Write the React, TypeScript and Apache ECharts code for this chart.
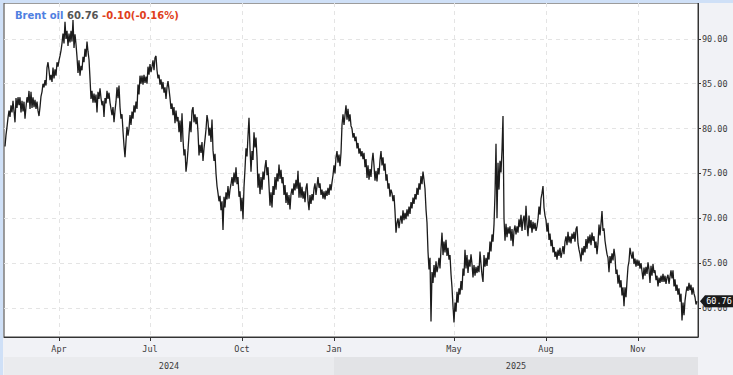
import React, { useEffect, useRef } from 'react';
import * as echarts from 'echarts';

const DAY = 86400000;
const seriesName = 'Brent oil';
const lastPrice = '60.76';
const lastChange = '-0.10(-0.16%)';
const firstDate = '2024-02-07';
const axisStart = '2024-02-06';
const axisEnd = '2025-12-31';
const monthTickDates = ['2024-04-01', '2024-07-01', '2024-10-01', '2025-01-01', '2025-05-01', '2025-08-01', '2025-11-01'];
const monthTickLabels = ['Apr', 'Jul', 'Oct', 'Jan', 'May', 'Aug', 'Nov'];
const yTickValues = [60, 65, 70, 75, 80, 85, 90];
const yearLabels = ['2024', '2025'];
const yearStarts = ['2024-02-06', '2025-01-01'];
const yearEnds = ['2025-01-01', '2025-12-31'];

// daily closes (one per day from firstDate)
const brentDaily = [
  78.0, 79.3, 80.2, 81.2, 82.0, 81.3, 82.6, 81.8, 83.1, 81.9,
  80.7, 83.4, 82.3, 83.5, 82.6, 83.5, 81.8, 83.1, 81.9, 83.0,
  81.1, 82.4, 83.5, 82.9, 84.2, 82.2, 84.1, 82.3, 83.5, 82.4,
  83.2, 82.2, 83.0, 82.0, 81.4, 82.4, 83.6, 84.1, 85.0, 84.6,
  85.4, 84.8, 86.8, 87.4, 86.5, 85.4, 86.0, 85.2, 86.8, 85.6,
  86.6, 85.9, 87.4, 86.9, 87.6, 88.1, 88.7, 89.5, 90.6, 89.5,
  91.9, 90.0, 90.9, 89.2, 90.6, 89.6, 90.9, 89.7, 92.1, 89.0,
  90.5, 89.4, 88.0, 86.2, 87.6, 85.9, 87.0, 86.5, 88.0, 87.4,
  88.9, 88.0, 89.7, 88.6, 87.7, 85.6, 83.3, 84.2, 82.9, 83.9,
  82.9, 83.8, 81.8, 84.1, 83.3, 84.5,
  83.4, 82.6, 83.1, 81.3, 83.4, 82.8, 84.2, 83.3, 84.0, 82.9,
  82.2, 81.5, 82.4, 80.7, 82.0, 83.0, 84.6, 83.4, 84.8, 82.4,
  81.1, 81.6, 79.7, 78.1, 76.8, 78.6, 80.2, 79.2, 80.0, 81.5,
  80.4, 81.9, 81.1, 82.6, 81.8, 83.0, 82.2, 84.9, 83.8, 85.9,
  85.0, 85.9, 84.9, 86.0, 85.1, 85.8, 85.0, 86.9, 86.0, 87.2,
  86.3, 86.9, 87.6, 86.5, 87.9, 88.1, 86.5, 85.6, 86.0, 84.9,
  85.5, 84.4, 85.2, 84.0, 84.6, 83.3, 84.6, 85.3, 84.4, 83.4,
  82.2, 82.8, 81.5, 82.4, 80.6, 82.0, 80.8, 81.3, 79.6, 80.9,
  78.5, 81.7, 78.8, 77.0, 77.7, 75.2, 76.2, 77.6, 79.3, 80.8,
  79.6, 82.0, 82.4, 80.7, 81.6, 80.5, 81.3, 79.6, 77.0, 78.2,
  77.3, 78.5, 76.4, 77.8, 78.8, 79.9, 81.5, 80.8, 79.2, 80.1,
  78.5, 81.0, 77.6, 76.4, 77.2, 75.0, 73.6, 72.8, 71.9, 72.5,
  70.9, 71.9, 68.7, 72.4, 71.2, 72.9, 72.1, 73.6, 72.2, 73.2,
  73.8, 74.6, 73.6, 75.1, 74.0, 75.7, 73.8, 74.6, 72.4, 73.0,
  70.8, 72.3, 69.9, 73.5, 75.5, 77.8, 76.9, 79.2, 81.2, 77.8,
  75.2, 77.5, 76.5, 79.6, 77.9, 79.0, 76.8, 73.4, 75.0, 72.7,
  74.6, 73.2, 75.2, 74.3, 75.7, 76.5, 74.8, 75.7, 73.6, 71.4,
  72.9, 71.2, 73.6, 72.6, 74.6, 73.2, 75.0, 74.1, 76.0, 74.4,
  75.4, 73.9, 74.6, 72.6, 73.7, 71.7, 72.9, 71.5, 72.6, 71.0,
  72.7, 73.3, 72.6, 73.9, 73.1, 74.3, 73.3, 75.3, 72.3, 74.0,
  72.3, 73.5, 72.2, 73.0, 71.8, 73.4, 73.9, 72.0, 70.9, 72.6,
  71.6, 72.7, 72.0, 73.3, 73.9, 72.6, 73.6, 74.6, 73.4, 73.9,
  72.6, 73.2, 72.2, 73.0, 72.1, 73.1, 72.5, 73.4, 72.6, 73.8,
  73.1, 74.0, 74.8, 75.9, 75.0, 76.8, 77.5, 76.2, 77.1, 75.8,
  77.3, 80.4, 81.6, 80.4, 81.5, 82.6, 81.0, 82.2, 80.8, 81.6,
  80.3, 80.0, 79.0, 79.5, 78.6, 79.1, 77.8, 78.4, 77.2, 77.8,
  76.9, 77.5, 76.6, 77.3, 75.7, 76.6, 74.5, 75.9, 74.3, 75.5,
  74.6, 76.3, 77.3, 75.9, 74.2, 75.3, 74.1, 75.6, 74.9, 76.5,
  77.5, 75.9, 76.8, 75.3, 76.1, 74.2, 74.9, 73.3, 73.9, 72.4,
  73.2, 72.8, 71.9, 72.6, 70.8, 68.4, 69.5, 70.0, 68.9, 69.8,
  70.3, 69.4, 70.9, 69.8, 70.6, 69.9, 71.0, 70.2, 71.3, 70.5,
  71.8, 71.1, 72.3, 71.6, 72.7, 72.1, 73.4, 72.6, 73.9, 73.2,
  74.7, 73.8, 75.2, 74.3, 73.3, 71.0, 69.5, 66.3, 64.3, 65.6,
  58.5, 64.0, 62.8, 64.8, 63.4, 65.2, 64.0, 64.6, 65.6, 64.4,
  66.6, 68.4, 65.9, 67.4, 66.2, 67.6, 65.8, 66.7, 65.4, 65.9,
  63.8, 62.3, 60.2, 58.4, 60.6, 59.6, 61.8, 60.6, 62.2, 61.5,
  63.0, 62.0, 64.4, 63.6, 66.5, 64.4, 65.9, 63.9, 65.4, 64.6,
  66.0, 64.9, 63.4, 64.8, 63.6, 64.6, 63.9, 64.7, 64.0, 66.3,
  64.9, 63.7, 62.9, 65.9, 64.6, 65.6, 64.7, 66.2, 65.4, 67.4,
  66.3, 68.2, 67.4, 69.3, 72.7, 78.3, 70.0, 76.2, 73.2, 76.4,
  75.1, 77.6, 81.4, 70.0, 67.5, 69.4, 67.9, 69.0, 68.3, 69.1,
  67.5, 68.8, 66.9, 68.6, 69.2, 68.2, 69.1, 68.4, 69.9, 69.0,
  70.4, 68.6, 69.8, 70.3, 68.7, 71.4, 69.3, 68.0, 70.3, 68.9,
  69.8, 68.4, 69.6, 68.8, 69.5, 68.6, 69.1, 69.9, 71.3, 70.4,
  72.2, 72.8, 73.6, 71.2, 70.3, 69.8, 68.5, 69.5, 67.6, 68.3,
  66.9, 67.6, 66.2, 66.8, 65.7, 66.3, 65.4, 66.5, 65.8, 66.7,
  65.6, 66.2, 66.9, 66.0, 67.4, 68.0, 67.0, 68.5, 67.3, 68.0,
  67.2, 68.3, 67.7, 68.5, 67.4, 68.8, 69.1, 67.2, 66.5, 66.0,
  65.2, 66.7, 65.9, 66.9, 66.2, 67.7, 66.6, 68.0, 67.2, 68.2,
  67.0, 68.4, 67.5, 68.0, 66.7, 67.4, 66.0, 67.2, 69.3, 68.1,
  69.4, 70.8, 68.6, 68.9, 67.5, 66.7, 66.0, 65.6, 64.0, 65.8,
  65.0, 66.1, 65.3, 66.6, 65.7, 63.8, 64.3, 62.7, 63.7, 62.3,
  63.1, 61.4, 62.3, 60.2, 62.3, 61.2, 63.0, 64.6, 65.2, 66.7,
  66.0, 65.5, 66.3, 64.9, 65.5, 64.6, 65.4, 64.7, 65.3, 64.4,
  65.0, 64.1, 63.2, 64.5, 63.6, 64.6, 63.8, 65.1, 64.3, 62.8,
  64.7, 63.6, 64.9, 63.9, 64.2, 63.1, 63.6, 62.4, 63.4, 62.8,
  63.6, 62.9, 63.8, 62.9, 63.6, 62.7, 63.4, 63.7, 62.7, 63.5,
  64.2, 63.3, 64.2, 62.4, 63.2, 61.9, 62.6, 61.5, 62.2, 60.7,
  61.6, 58.6, 60.6, 59.2, 60.8, 61.7, 62.4, 61.9, 62.8, 62.0,
  62.6, 61.5, 62.3, 61.6, 61.2, 60.4, 60.76,
];

const ms = (d: string) => new Date(d).getTime();
const MONO = "'DejaVu Sans Mono', monospace";
const SANS = "'DejaVu Sans', sans-serif";

export default function App() {
  const ref = useRef<HTMLDivElement>(null);

  useEffect(() => {
    if (!ref.current) return;
    const chart = echarts.init(ref.current, undefined, { renderer: 'svg' });
    const start = ms(firstDate);
    const lineData = brentDaily.map((v, i) => [start + i * DAY, v]);
    const monthMs = monthTickDates.map(ms);
    const xMin = ms(axisStart);
    const xMax = ms(axisEnd);
    const lastValue = brentDaily[brentDaily.length - 1];

    const option: any = {
      animation: false,
      backgroundColor: '#f1f2f6',
      title: {
        text: `{n|${seriesName}} {p|${lastPrice}} {c|${lastChange}}`,
        left: 15,
        top: 8,
        padding: 0,
        textStyle: {
          fontFamily: SANS,
          fontSize: 10,
          fontWeight: 'bold',
          lineHeight: 14,
          rich: {
            n: { color: '#4f80e1', fontFamily: SANS, fontSize: 10, fontWeight: 'bold', lineHeight: 14 },
            p: { color: '#555555', fontFamily: SANS, fontSize: 10, fontWeight: 'bold', lineHeight: 14 },
            c: { color: '#e0401c', fontFamily: SANS, fontSize: 10, fontWeight: 'bold', lineHeight: 14 },
          },
        },
      },
      graphic: [
        { type: 'rect', left: 0, top: 0, z: 100, shape: { width: 733, height: 3 }, style: { fill: '#cfe0f7' }, silent: true },
        { type: 'rect', left: 0, top: 0, z: 100, shape: { width: 3, height: 375 }, style: { fill: '#cfe0f7' }, silent: true },
      ],
      grid: [
        { left: 4, right: 35, top: 3, height: 334, show: true, backgroundColor: '#ffffff', borderColor: '#3a3a3a', borderWidth: 1 },
        { left: 4, right: 35, top: 357, height: 18, show: false },
      ],
      xAxis: [
        {
          type: 'value',
          gridIndex: 0,
          min: xMin,
          max: xMax,
          axisLine: { show: true, lineStyle: { color: '#333333', width: 1 } },
          axisTick: { show: true, customValues: monthMs, length: 4, lineStyle: { color: '#333333' } },
          axisLabel: {
            customValues: monthMs,
            formatter: (v: number) => {
              const idx = monthMs.findIndex((m) => Math.abs(m - v) < DAY);
              return idx >= 0 ? monthTickLabels[idx] : '';
            },
            fontFamily: MONO,
            fontSize: 8.5,
            color: '#3c3c3c',
            margin: 7,
          },
          splitLine: { show: true, lineStyle: { color: '#e4e4e4', type: [4, 4], width: 1 } },
        },
        { type: 'value', gridIndex: 1, min: xMin, max: xMax, show: false },
      ],
      yAxis: [
        {
          type: 'value',
          gridIndex: 0,
          position: 'right',
          min: 56.77,
          max: 94.0,
          axisLine: { show: true, lineStyle: { color: '#333333', width: 1 } },
          axisTick: { show: true, customValues: yTickValues, length: 3, lineStyle: { color: '#333333' } },
          axisLabel: {
            customValues: yTickValues,
            formatter: (v: number) => v.toFixed(2),
            fontFamily: MONO,
            fontSize: 8.5,
            color: '#3c3c3c',
            margin: 4,
          },
          splitLine: { show: true, lineStyle: { color: '#e4e4e4', type: [4, 4], width: 1 } },
        },
        { type: 'value', gridIndex: 1, min: 0, max: 1, show: false },
      ],
      series: [
        {
          name: seriesName,
          type: 'line',
          xAxisIndex: 0,
          yAxisIndex: 0,
          data: lineData,
          symbol: 'none',
          clip: false,
          lineStyle: { width: 1.3, color: '#1c1c1c' },
          markPoint: {
            silent: true,
            symbol: 'path://M0,6 L5,0 L34,0 L34,12 L5,12 Z',
            symbolSize: [34, 12],
            symbolKeepAspect: false,
            symbolOffset: [19, 0],
            itemStyle: { color: '#1a1a1a' },
            label: {
              show: true,
              position: 'inside',
              formatter: lastPrice,
              color: '#ffffff',
              fontFamily: MONO,
              fontSize: 8.5,
              offset: [2, 0],
            },
            data: [{ coord: [xMax, lastValue], value: lastValue }],
          },
        },
        {
          type: 'line',
          xAxisIndex: 1,
          yAxisIndex: 1,
          data: [[xMin, 0.5], [xMax, 0.5]],
          symbol: 'none',
          lineStyle: { opacity: 0 },
          silent: true,
          markArea: {
            silent: true,
            label: { show: true, position: 'inside', fontFamily: MONO, fontSize: 8.5, color: '#3c3c3c' },
            data: yearLabels.map((lab, i) => [
              { name: lab, xAxis: ms(yearStarts[i]), itemStyle: { color: i === 0 ? '#eaebee' : '#e2e3e6' } },
              { xAxis: ms(yearEnds[i]) },
            ]),
          },
        },
      ],
    };
    chart.setOption(option);
    return () => chart.dispose();
  }, []);

  return (
    <div
      ref={ref}
      style={{ position: 'fixed', left: 0, top: 0, width: 733, height: 375 }}
    />
  );
}
